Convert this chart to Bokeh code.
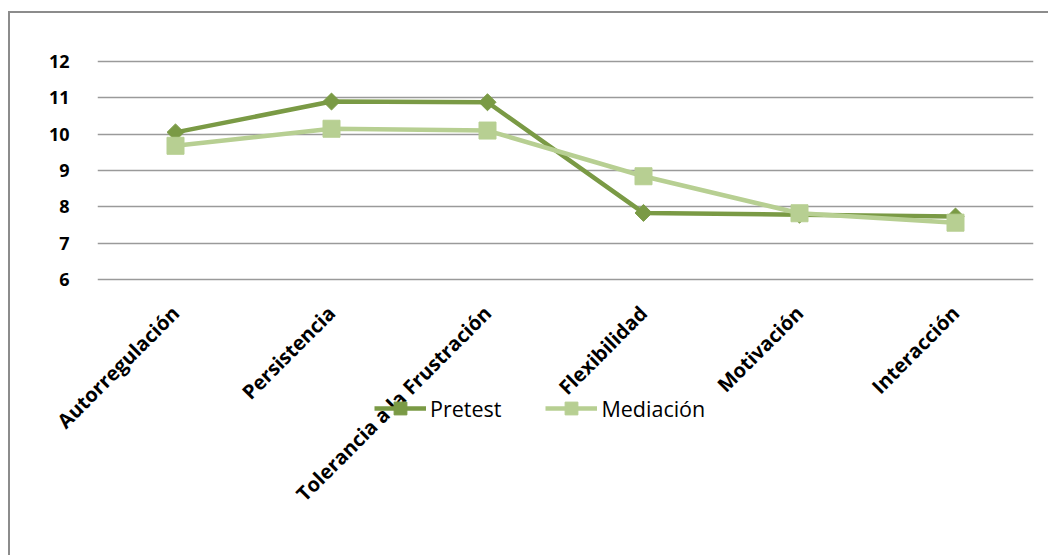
from math import pi

from bokeh.embed import file_html
from bokeh.models import ColumnDataSource, FactorRange, FixedTicker, Legend, LegendItem, Range1d
from bokeh.plotting import figure
from bokeh.resources import INLINE

# Dimension names and mean scores per phase
categories = [
    "Autorregulación",
    "Persistencia",
    "Tolerancia a la Frustración",
    "Flexibilidad",
    "Motivación",
    "Interacción",
]
pretest = [10.05, 10.9, 10.88, 7.83, 7.78, 7.73]
mediacion = [9.68, 10.15, 10.1, 8.84, 7.82, 7.56]
y_ticks = [6, 7, 8, 9, 10, 11, 12]

DARK = "#7a9a45"
LIGHT = "#b7cf92"
FONT = "Open Sans"

src = ColumnDataSource(dict(cat=categories, pre=pretest, med=mediacion))

# The frame reaches down past the category labels so that the legend
# can sit across them; only the 6..12 band carries gridlines.
p = figure(
    x_range=FactorRange(*categories, range_padding=0),
    y_range=Range1d(1.5, 12.5),
    frame_width=936,
    frame_height=399,
    min_border_left=87,
    min_border_right=15,
    min_border_top=30,
    min_border_bottom=113,
    output_backend="svg",
    toolbar_location=None,
    outline_line_color=None,
    background_fill_color="white",
    border_fill_color="white",
)
p.styles = {
    "margin-left": "8px",
    "margin-top": "11px",
    "border-left": "2px solid #8c8c8c",
    "border-top": "2px solid #8c8c8c",
}

# Axes
p.yaxis.ticker = FixedTicker(ticks=y_ticks)
p.yaxis.axis_line_color = None
p.yaxis.major_tick_line_color = None
p.yaxis.minor_tick_line_color = None
p.yaxis.major_label_standoff = 22
p.yaxis.major_label_text_font = FONT
p.yaxis.major_label_text_font_style = "bold"
p.yaxis.major_label_text_font_size = "18px"
p.yaxis.major_label_text_color = "black"

p.xaxis.axis_line_color = None
p.xaxis.major_tick_line_color = None
p.xaxis.major_label_orientation = pi / 4
p.xaxis.major_label_standoff = -139
p.xaxis.major_label_text_font = FONT
p.xaxis.major_label_text_font_style = "bold"
p.xaxis.major_label_text_font_size = "20px"
p.xaxis.major_label_text_color = "black"

# Grid
p.xgrid.grid_line_color = None
p.ygrid.ticker = FixedTicker(ticks=y_ticks)
p.ygrid.grid_line_color = "#9a9a9a"
p.ygrid.grid_line_width = 1.5

# Series: Pretest
pre_line = p.line("cat", "pre", source=src, line_color=DARK, line_width=4.5)
pre_mark = p.scatter("cat", "pre", source=src, marker="square", angle=pi / 4,
                     size=12, fill_color=DARK, line_color=DARK)

# Series: Mediación
med_line = p.line("cat", "med", source=src, line_color=LIGHT, line_width=4.5)
med_mark = p.scatter("cat", "med", source=src, marker="square",
                     size=17, fill_color=LIGHT, line_color=LIGHT)

legend = Legend(
    items=[
        LegendItem(label="Pretest", renderers=[pre_line, pre_mark]),
        LegendItem(label="Mediación", renderers=[med_line, med_mark]),
    ],
    orientation="horizontal",
    location=(277, 18),
    glyph_width=52,
    glyph_height=32,
    label_standoff=4,
    spacing=44,
    padding=0,
    margin=0,
    border_line_color=None,
    background_fill_alpha=0,
    label_text_font=FONT,
    label_text_font_size="21.5px",
    label_text_color="black",
)
p.add_layout(legend, "center")

open("out.html", "w").write(file_html(p, INLINE))
